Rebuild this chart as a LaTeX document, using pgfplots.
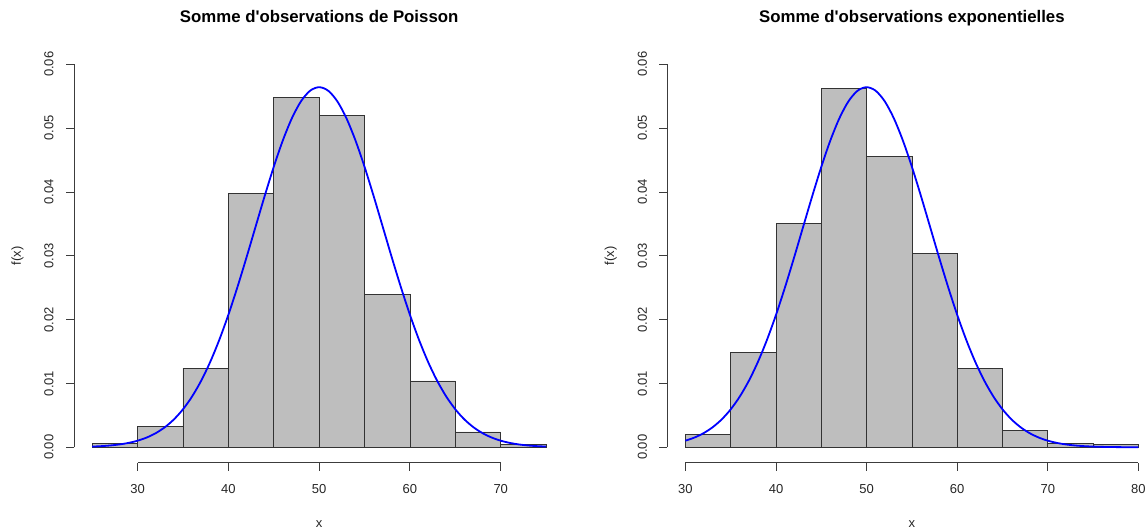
\documentclass[border=0pt]{standalone}
\usepackage{pgfplots}
\pgfplotsset{compat=1.18}
\usepackage{pgfplotstable}
\usepackage{fontspec}
\setmainfont{Liberation Sans}

% densite normale lue sur la courbe bleue (pas de 1)
\pgfplotstableread{
x f
25 0.000109
26 0.000178
27 0.000284
28 0.000446
29 0.000686
30 0.001033
31 0.001526
32 0.002210
33 0.003136
34 0.004361
35 0.005947
36 0.007947
37 0.010411
38 0.013367
39 0.016824
40 0.020755
41 0.025099
42 0.029749
43 0.034564
44 0.039362
45 0.043939
46 0.048077
47 0.051563
48 0.054207
49 0.055858
50 0.056419
51 0.055858
52 0.054207
53 0.051563
54 0.048077
55 0.043939
56 0.039362
57 0.034564
58 0.029749
59 0.025099
60 0.020755
61 0.016824
62 0.013367
63 0.010411
64 0.007947
65 0.005947
66 0.004361
67 0.003136
68 0.002210
69 0.001526
70 0.001033
71 0.000686
72 0.000446
73 0.000284
74 0.000178
75 0.000109
76 0.000065
77 0.000039
78 0.000022
79 0.000013
80 0.000007
}\courbe

% histogrammes (bornes gauches, densite) ; derniere ligne = borne droite
\pgfplotstableread{
x d
25 0.0006
30 0.0032
35 0.0124
40 0.0398
45 0.0548
50 0.0520
55 0.0240
60 0.0104
65 0.0024
70 0.0004
75 0.0004
}\poisson

\pgfplotstableread{
x d
30 0.0020
35 0.0148
40 0.0350
45 0.0562
50 0.0456
55 0.0304
60 0.0124
65 0.0026
70 0.0006
75 0.0004
80 0.0004
}\expo

\definecolor{histgray}{RGB}{190,190,190}
\definecolor{axgray}{RGB}{60,60,60}

\pgfplotsset{
  rstyle/.style={
    scale only axis, anchor=south west,
    height=413.6pt,
    ymin=-0.0024, ymax=0.0624,
    clip=false,
    axis x line*=bottom, axis y line*=left,
    axis line style={draw=none},
    tick align=outside, major tick length=8pt,
    tick style={axgray, line width=0.9pt},
    ytick={0,0.01,0.02,0.03,0.04,0.05,0.06},
    yticklabel={\pgfmathprintnumber[fixed,fixed zerofill,precision=2]{\tick}},
    scaled y ticks=false,
    /pgf/number format/assume math mode=true,
    ticklabel style={font=\fontsize{13}{15}\selectfont, text=black!85},
    xticklabel style={anchor=center, yshift=-18pt},
    yticklabel style={anchor=center, xshift=-17pt, rotate=90},
    title style={font=\bfseries\fontsize{16.8}{19}\selectfont, at={(0.5,1)}, anchor=base, yshift=20.3pt},
    every axis x label/.style={at={(rel axis cs:0.5,0)}, anchor=center, yshift=-61pt, font=\fontsize{13}{15}\selectfont, text=black!85},
    every axis y label/.style={at={(rel axis cs:0,0.5)}, xshift=-56.6pt, rotate=90, anchor=center, font=\fontsize{13}{15}\selectfont, text=black!85},
    xlabel={x}, ylabel={f(x)},
  },
  hist/.style={ybar interval, fill=histgray, draw=black!80, line width=0.8pt},
  dens/.style={blue, line width=1.8pt, smooth},
}

\begin{document}
\begin{tikzpicture}
\useasboundingbox (0,0) rectangle (1146pt,531pt);
\clip (0,0) rectangle (1146pt,531pt);

\begin{axis}[rstyle, at={(74pt,68.4pt)}, width=490.3pt,
  xmin=23, xmax=77, xtick={30,40,50,60,70},
  title={Somme d\textquotesingle observations de Poisson}]
\addplot[hist] table[x=x, y=d] {\poisson};
\addplot[dens, restrict x to domain=25:75] table[x=x, y=f] {\courbe};
\draw[axgray, line width=0.9pt] (axis cs:30,-0.0024) -- (axis cs:70,-0.0024);
\draw[axgray, line width=0.9pt] (axis cs:23,0) -- (axis cs:23,0.06);
\end{axis}

\begin{axis}[rstyle, at={(667.3pt,68.4pt)}, width=489.2pt,
  xmin=28, xmax=82, xtick={30,40,50,60,70,80},
  title={Somme d\textquotesingle observations exponentielles}]
\addplot[hist] table[x=x, y=d] {\expo};
\addplot[dens, restrict x to domain=30:80] table[x=x, y=f] {\courbe};
\draw[axgray, line width=0.9pt] (axis cs:30,-0.0024) -- (axis cs:80,-0.0024);
\draw[axgray, line width=0.9pt] (axis cs:28,0) -- (axis cs:28,0.06);
\end{axis}
\end{tikzpicture}
\end{document}
